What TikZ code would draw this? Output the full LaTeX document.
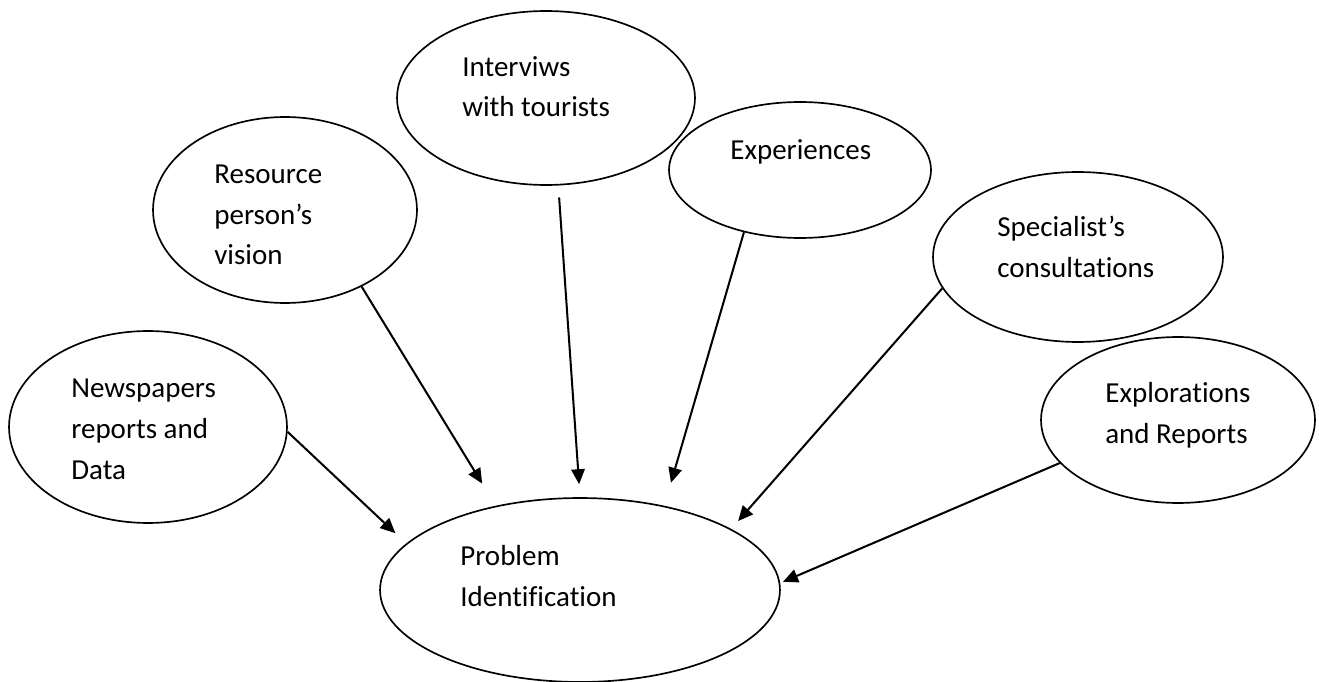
\documentclass[tikz,border=0pt]{standalone}
\usepackage{fontspec}
\setmainfont{Carlito}[Ligatures=NoCommon]
\usetikzlibrary{shapes.geometric}
\usetikzlibrary{arrows.meta}

\begin{document}
\begin{tikzpicture}[x=0.02cm, y=-0.02cm,
      source/.style = {ellipse, draw, line width=0.95pt, inner sep=0pt},
      words/.style = {anchor=base west, align=left, inner sep=0pt,
      font=\fontsize{16.5}{23.3}\selectfont},
      feed/.style = {line width=1.15pt,
      -{Triangle[length=0.3cm,width=0.27cm]}}]

   \useasboundingbox (0,0) rectangle (1319,682);

   % sources
   \node[source, minimum width=5.96cm, minimum height=3.48cm] (intv)  at (546,98)   {};
   \node[source, minimum width=5.28cm, minimum height=3.72cm] (res)   at (285,210)  {};
   \node[source, minimum width=5.24cm, minimum height=2.72cm] (exper) at (800,170)  {};
   \node[source, minimum width=5.80cm, minimum height=3.40cm] (spec)  at (1078,257) {};
   \node[source, minimum width=5.56cm, minimum height=3.84cm] (news)  at (148,427)  {};
   \node[source, minimum width=5.48cm, minimum height=3.32cm] (expl)  at (1178,420) {};

   % target
   \node[source, minimum width=8.00cm, minimum height=3.68cm] (prob)  at (580,590)  {};

   % texts (placed at the baseline of their last line)
   \node[words] (intvT)  at (462,117) {Interviws\\with tourists};
   \node[words] (resT)   at (214,265) {Resource\\person’s\\vision};
   \node[words] (experT) at (730,160) {Experiences};
   \node[words] (specT)  at (997,277) {Specialist’s\\consultations};
   \node[words] (newsT)  at (71,479)  {Newspapers\\reports and\\Data};
   \node[words] (explT)  at (1105,443) {Explorations\\and Reports};
   \node[words] (probT)  at (460,606) {Problem\\Identification};

   % arrows into the problem
   \draw[feed, shorten >=0.30cm] (news.-2)   -- (prob.165);
   \draw[feed, shorten >=0.52cm] (res.-45)   -- (prob.135);
   \draw[feed, shorten <=0.24cm, shorten >=0.26cm] (intv.-82) -- (prob.90);
   \draw[feed, shorten >=0.48cm] (exper.228) -- (prob.45);
   \draw[feed, shorten >=0.21cm] (spec.193)  -- (prob.22);
   \draw[feed, shorten >=0.06cm] (expl.200)  -- (prob.2);

\end{tikzpicture}
\end{document}
